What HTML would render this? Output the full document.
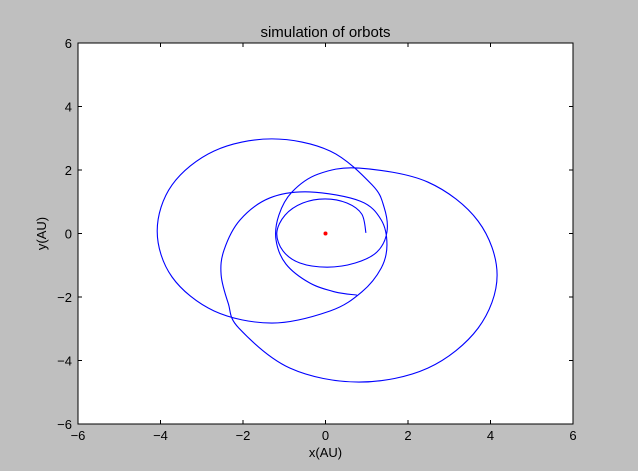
<!DOCTYPE html>
<html><head><meta charset="utf-8"><style>
html,body{margin:0;padding:0;background:#bfbfbf;}
svg{display:block;font-family:"Liberation Sans","DejaVu Sans",sans-serif;}
</style></head><body>
<svg id="chart" width="638" height="471" viewBox="0 0 638 471">
<rect x="0" y="0" width="638" height="471" fill="#bfbfbf"/>
<rect x="78" y="43" width="495" height="381" fill="#ffffff"/>
<g id="traj"></g>
<g id="axes"></g>
<text x="325.5" y="37" font-size="15" text-anchor="middle" fill="#000">simulation of orbots</text>
<text x="325.5" y="457" font-size="13" text-anchor="middle" fill="#000">x(AU)</text>
<text x="46" y="233.5" font-size="13" text-anchor="middle" fill="#000" transform="rotate(-90 46 233.5)">y(AU)</text>
</svg>
<script>
const xTicks = [-6, -4, -2, 0, 2, 4, 6];
const yTicks = [-6, -4, -2, 0, 2, 4, 6];
const orbitX = [0.98,0.88,0.52,-0.01,-0.55,-0.98,-1.18,-1.03,-0.62,0.04,0.72,1.25,1.49,1.42,1.13,0.11,-1.30,-2.70,-3.72,-4.08,-3.72,-2.70,-1.30,0.11,0.88,1.35,1.49,1.35,0.84,-0.38,-1.35,-2.07,-2.46,-2.53,-2.36,-2.10,-0.86,0.81,2.48,3.70,4.16,3.70,2.48,0.81,-0.18,-0.81,-1.13,-1.20,-0.96,-0.38,0.23,0.76];
const orbitY = [0.02,0.61,0.96,1.09,0.96,0.58,0.02,-0.55,-0.93,-1.06,-0.93,-0.58,0.05,0.83,1.53,2.60,2.98,2.60,1.53,0.08,-1.37,-2.44,-2.82,-2.44,-1.84,-1.09,-0.36,0.43,1.02,1.31,1.12,0.43,-0.52,-1.31,-2.19,-2.98,-4.24,-4.68,-4.24,-2.98,-1.31,0.39,1.62,2.06,1.87,1.31,0.58,-0.20,-0.96,-1.56,-1.84,-1.94];
const sunX = [0];
const sunY = [0];

const NS = "http://www.w3.org/2000/svg";
const L = 78, R = 573, T = 43, B = 424;
function sx(v){ return L + (v + 6) / 12 * (R - L); }
function sy(v){ return B - (v + 6) / 12 * (B - T); }

const traj = document.getElementById('traj');
const pts = orbitX.map((x, i) => [sx(x), sy(orbitY[i])]);
let d = 'M' + pts[0][0].toFixed(2) + ' ' + pts[0][1].toFixed(2);
for (let i = 0; i < pts.length - 1; i++) {
  const p0 = pts[Math.max(0, i - 1)], p1 = pts[i], p2 = pts[i + 1], p3 = pts[Math.min(pts.length - 1, i + 2)];
  const c1x = p1[0] + (p2[0] - p0[0]) / 6, c1y = p1[1] + (p2[1] - p0[1]) / 6;
  const c2x = p2[0] - (p3[0] - p1[0]) / 6, c2y = p2[1] - (p3[1] - p1[1]) / 6;
  d += ' C' + c1x.toFixed(2) + ' ' + c1y.toFixed(2) + ' ' + c2x.toFixed(2) + ' ' + c2y.toFixed(2) + ' ' + p2[0].toFixed(2) + ' ' + p2[1].toFixed(2);
}
const path = document.createElementNS(NS, 'path');
path.setAttribute('d', d);
path.setAttribute('fill', 'none');
path.setAttribute('stroke', '#0000ff');
path.setAttribute('stroke-width', '1.1');


traj.appendChild(path);

sunX.forEach((x, i) => {
  const c = document.createElementNS(NS, 'circle');
  c.setAttribute('cx', sx(x));
  c.setAttribute('cy', sy(sunY[i]));
  c.setAttribute('r', '2');
  c.setAttribute('fill', '#ff0000');
  
  
  traj.appendChild(c);
});

const axes = document.getElementById('axes');
const frame = document.createElementNS(NS, 'rect');
frame.setAttribute('x', L); frame.setAttribute('y', T);
frame.setAttribute('width', R - L); frame.setAttribute('height', B - T);
frame.setAttribute('fill', 'none'); frame.setAttribute('stroke', '#000'); frame.setAttribute('stroke-width', '1');


axes.appendChild(frame);

function line(x1, y1, x2, y2, name){
  const l = document.createElementNS(NS, 'line');
  l.setAttribute('x1', x1); l.setAttribute('y1', y1); l.setAttribute('x2', x2); l.setAttribute('y2', y2);
  l.setAttribute('stroke', '#000'); l.setAttribute('stroke-width', '1');
  
  
  axes.appendChild(l);
}
function label(x, y, txt, anchor, name){
  const t = document.createElementNS(NS, 'text');
  t.setAttribute('x', x); t.setAttribute('y', y);
  t.setAttribute('font-size', '13'); t.setAttribute('text-anchor', anchor); t.setAttribute('fill', '#000');
  t.textContent = txt;
  
  
  axes.appendChild(t);
}
xTicks.forEach(v => {
  const x = sx(v);
  line(x, B, x, B - 4, 'x-tick');
  line(x, T, x, T + 4, 'x-tick-top');
  label(x, B + 16, (v < 0 ? '\u2212' + (-v) : String(v)), 'middle', 'x-tick-label');
});
yTicks.forEach(v => {
  const y = sy(v);
  line(L, y, L + 4, y, 'y-tick');
  line(R, y, R - 4, y, 'y-tick-right');
  label(L - 6, y + 5, (v < 0 ? '\u2212' + (-v) : String(v)), 'end', 'y-tick-label');
});
</script>
</body></html>
